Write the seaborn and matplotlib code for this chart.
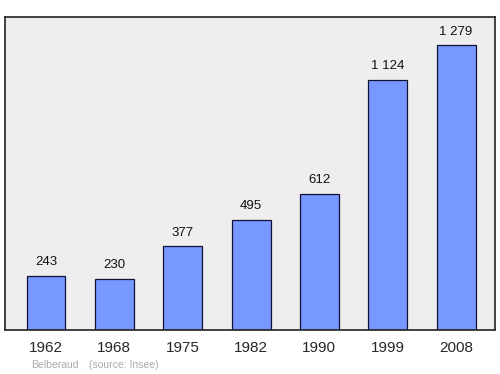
import matplotlib
matplotlib.use("Agg")
import matplotlib.pyplot as plt
import seaborn as sns
import pandas as pd

years = ["1962", "1968", "1975", "1982", "1990", "1999", "2008"]
population = [243, 230, 377, 495, 612, 1124, 1279]
value_labels = ["243", "230", "377", "495", "612", "1 124", "1 279"]

df = pd.DataFrame({"year": years, "pop": population})

sns.set_style("white")
plt.rcParams['font.family'] = ['Liberation Sans', 'DejaVu Sans']

fig = plt.figure(figsize=(5, 3.74), dpi=100)
ax = fig.add_axes([0.01, 0.118, 0.98, 0.836])
ax.set_facecolor("#eeeeee")
sns.barplot(data=df, x="year", y="pop", color="#7799ff", saturation=1,
            width=0.57, edgecolor="#111133", linewidth=0.9, ax=ax)
for i, (v, lab) in enumerate(zip(population, value_labels)):
    ax.text(i, v + 1279 * 0.026, lab, ha="center", va="bottom", fontsize=9.5, color="#111111")
ax.set_xlim(-0.6, 6.57)
ax.set_ylim(0, 1405)
ax.set_yticks([])
ax.set_xlabel("")
ax.set_ylabel("")
ax.tick_params(axis="x", length=0, labelsize=11, pad=8)
for s in ax.spines.values():
    s.set_color("#222222")
    s.set_linewidth(1.2)
fig.text(0.062, 0.012, "Belberaud", fontsize=7.5, color="#aaaaaa", ha="left", va="bottom")
fig.text(0.178, 0.012, "(source: Insee)", fontsize=7.5, color="#aaaaaa", ha="left", va="bottom")
fig.savefig("out.png", dpi=100, facecolor="white")
